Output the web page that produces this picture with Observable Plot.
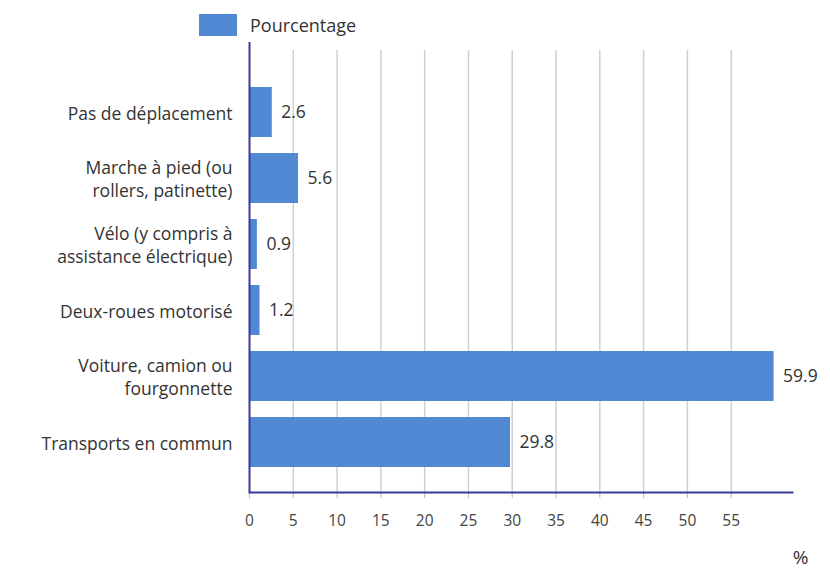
<!DOCTYPE html>
<html>
<head>
<meta charset="utf-8">
<script src="https://cdn.jsdelivr.net/npm/d3@7"></script>
<script src="https://cdn.jsdelivr.net/npm/@observablehq/plot@0.6"></script>
<style>
  body { margin: 0; background: #fff; font-family: "Open Sans", sans-serif; }
  #wrap { position: relative; width: 830px; height: 569px; }
  #legend { position: absolute; left: 199px; top: 14px; height: 22px; display: flex; align-items: center; font-size: 18px; color: #333; }
  #legend .sw { width: 38px; height: 22px; background: #5189d4; margin-right: 13px; }
  svg { position: absolute; left: 0; top: 0; }
</style>
</head>
<body>
<div id="wrap">
  <div id="legend"><div class="sw"></div><span>Pourcentage</span></div>
</div>
<script>
const categories = [
  "Pas de déplacement",
  "Marche à pied (ou\nrollers, patinette)",
  "Vélo (y compris à\nassistance électrique)",
  "Deux-roues motorisé",
  "Voiture, camion ou\nfourgonnette",
  "Transports en commun"
];
const values = [2.6, 5.6, 0.9, 1.2, 59.9, 29.8];
const xTicks = [0, 5, 10, 15, 20, 25, 30, 35, 40, 45, 50, 55];
const gridTicks = [5, 10, 15, 20, 25, 30, 35, 40, 45, 50, 55];
const seriesName = "Pourcentage";
const unitLabel = "%";

const data = categories.map((c, i) => ({cat: c, value: values[i]}));

const chart = Plot.plot({
  width: 830,
  height: 569,
  marginLeft: 249,
  marginRight: 38,
  marginTop: 42,
  marginBottom: 77,
  style: {fontFamily: "Open Sans, sans-serif", color: "#333", background: "transparent"},
  x: {domain: [0, 62]},
  y: {domain: categories, paddingInner: 0.24, paddingOuter: 0.12, insetTop: 37, insetBottom: 17},
  marks: [
    Plot.ruleX(gridTicks, {x: d => d, stroke: "#cfcfcf", strokeWidth: 1.5, insetTop: 8}),
    Plot.barX(data, {x: "value", y: "cat", fill: "#5189d4"}),
    Plot.text(data, {x: "value", y: "cat", text: d => d.value.toFixed(1), dx: 9, textAnchor: "start", fontSize: 17.5, fill: "#333"}),
    Plot.axisY({tickSize: 0, tickPadding: 17, fontSize: 17.5, lineHeight: 1.3, label: null, color: "#333"}),
    Plot.axisX({ticks: xTicks, tickSize: 6, tickPadding: 16, fontSize: 15.5, label: null, stroke: "#bbb", color: "#444"}),
    Plot.ruleX([0], {stroke: "#3b3b9c", strokeWidth: 2}),
    Plot.frame({anchor: "bottom", stroke: "#3b3b9c", strokeWidth: 2}),
    Plot.text([unitLabel], {frameAnchor: "bottom-right", dx: 16, dy: 71, textAnchor: "end", fontSize: 19, fill: "#333"})
  ]
});
document.getElementById("wrap").appendChild(chart);
</script>
</body>
</html>
